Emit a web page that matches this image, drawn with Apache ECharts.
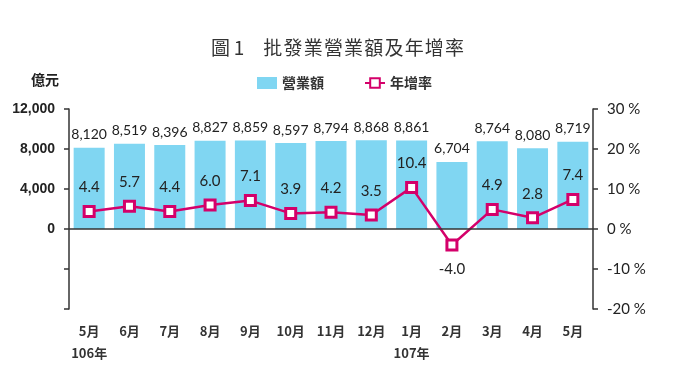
<!DOCTYPE html>
<html><head><meta charset="utf-8">
<script src="https://cdn.jsdelivr.net/npm/echarts@6/dist/echarts.min.js"></script>
<style>html,body{margin:0;padding:0;background:#fff}#c{width:680px;height:383px}</style>
</head><body><div id="c"></div>
<script>
const categories = ['5月','6月','7月','8月','9月','10月','11月','12月','1月','2月','3月','4月','5月'];
const yearLabels = ['106年','','','','','','','','107年','','','',''];
const revenue = [8120,8519,8396,8827,8859,8597,8794,8868,8861,6704,8764,8080,8719];
const growth = [4.4,5.7,4.4,6.0,7.1,3.9,4.2,3.5,10.4,-4.0,4.9,2.8,7.4];
const leftTicks = {min:-8000,max:12000,interval:4000};
const rightTicks = {min:-20,max:30,interval:10};

const chart = echarts.init(document.getElementById('c'));
chart.setOption({
  animation:false,
  title:{text:'圖\u20091\u3000批\u200A發\u200A業\u200A營\u200A業\u200A額\u200A及\u200A年\u200A增\u200A率',left:206,top:33,
    textStyle:{fontFamily:'Noto Sans CJK TC',fontSize:19,fontWeight:'normal',color:'#333'}},
  legend:{top:71,left:252,itemGap:40,itemWidth:20,itemHeight:12,
    textStyle:{fontFamily:'Noto Sans CJK TC',fontSize:14,fontWeight:'bold',color:'#333'},
    data:[{name:'營業額',icon:'rect'},{name:'年增率'}]},
  graphic:[{type:'text',left:31,top:73,style:{text:'億元',font:'bold 14px "Noto Sans CJK TC"',fill:'#222'}}],
  grid:{left:69,right:87,top:109,bottom:74},
  xAxis:{type:'category',data:categories,
    axisLine:{show:false},axisTick:{show:false},
    axisLabel:{interval:0,margin:11,lineHeight:22,fontFamily:'Noto Sans CJK TC',fontSize:13,fontWeight:'bold',color:'#333',
      formatter:(v,i)=> yearLabels[i] ? v+'\n'+yearLabels[i] : v}},
  yAxis:[
    {type:'value',min:leftTicks.min,max:leftTicks.max,interval:leftTicks.interval,
      axisLine:{show:true,lineStyle:{color:'#333',width:1.5}},axisTick:{show:true,length:5,lineStyle:{color:'#333',width:1.5}},
      splitLine:{show:false},
      axisLabel:{margin:14,fontFamily:'"Liberation Sans Narrow", Arial',fontWeight:'bold',fontSize:14,color:'#222',
        formatter:v=> v<0?'':v.toLocaleString('en-US')}},
    {type:'value',min:rightTicks.min,max:rightTicks.max,interval:rightTicks.interval,
      axisLine:{show:true,lineStyle:{color:'#333',width:1.5}},axisTick:{show:true,length:5,lineStyle:{color:'#333',width:1.5}},
      splitLine:{show:false},
      axisLabel:{margin:14,fontFamily:'Lato',fontSize:15,color:'#222',formatter:v=>v+' %'}}
  ],
  series:[
    {name:'營業額',type:'bar',data:revenue,barWidth:31,itemStyle:{color:'#80D6F2'},
      label:{show:true,position:'top',distance:6,fontFamily:'Lato',fontSize:14,color:'#222',
        formatter:p=>p.value.toLocaleString('en-US')},
      markLine:{silent:true,symbol:'none',label:{show:false},lineStyle:{color:'#333',width:1.5,type:'solid'},
        data:[{yAxis:0}]}},
    {name:'年增率',type:'line',yAxisIndex:1,data:growth.map(v=>({value:v,label:{position:v<0?'bottom':'top'}})),
      symbol:'rect',symbolSize:10,lineStyle:{color:'#D4006A',width:2.5},
      itemStyle:{color:'#fff',borderColor:'#D4006A',borderWidth:3},
      label:{show:true,distance:10,fontFamily:'Lato',fontSize:15,color:'#222',formatter:p=>p.value.toFixed(1)}}
  ]
});
</script></body></html>
